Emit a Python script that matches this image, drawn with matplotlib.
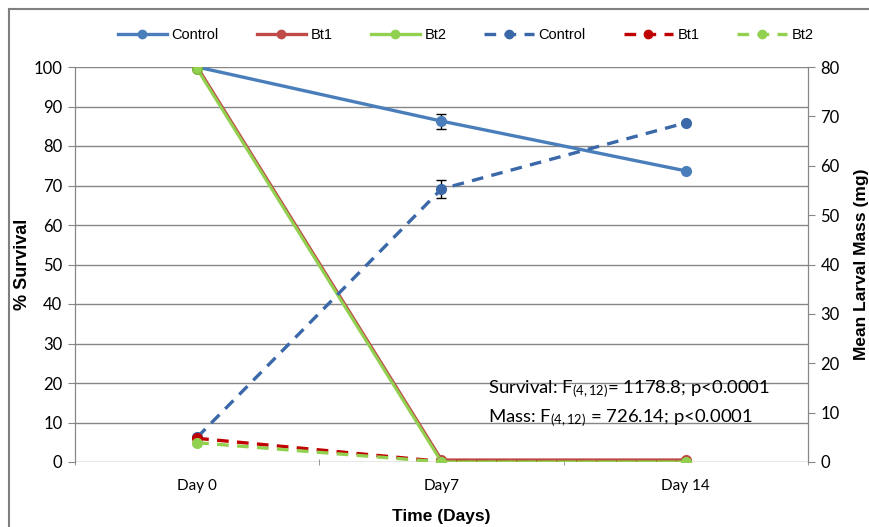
import matplotlib.pyplot as plt
from matplotlib.lines import Line2D

# Sobrevivência (%) e massa larval (mg) ao longo do tempo
dias = ['Day 0', 'Day7', 'Day 14']
sobrev_controle = [100, 86.3, 73.7]
sobrev_controle_erro = [0, 1.9, 0]
sobrev_bt1 = [100, 0.5, 0.5]
sobrev_bt2 = [99.5, 0, 0]
massa_controle = [5.0, 55.3, 68.7]
massa_controle_erro = [0, 1.9, 0]
massa_bt1 = [4.8, 0.1, 0]
massa_bt2 = [3.9, 0, 0]

azul = '#4A7EBB'
vermelho = '#BE4B48'
verde = '#92D050'
azul_esc = '#3A68A8'
vermelho_esc = '#C00000'
cinza = '#868686'
tracejado = (0, (3.5, 2.5))

plt.rcParams['font.family'] = ['Lato', 'DejaVu Sans']
plt.rcParams['mathtext.fontset'] = 'custom'
plt.rcParams['mathtext.rm'] = 'Lato'
plt.rcParams['mathtext.it'] = 'Lato'

fig = plt.figure(figsize=(8.7, 5.27), dpi=100)
ax = fig.add_axes([75 / 870, 1 - 462 / 527, 733 / 870, 395 / 527])
ax2 = ax.twinx()
x = range(len(dias))

# Linhas de sobrevivência (eixo esquerdo)
ax.errorbar(x, sobrev_controle, yerr=sobrev_controle_erro, color=azul, lw=2.4,
            marker='o', ms=7, mec=azul, ecolor='black', elinewidth=1, capsize=3.5,
            zorder=3)
ax.plot(x, sobrev_bt1, color=vermelho, lw=2.4, marker='o', ms=7, mec=vermelho,
        zorder=4)
ax.plot(x, sobrev_bt2, color=verde, lw=2.2, marker='o', ms=7, mec='#7DB83A',
        zorder=5)

# Linhas de massa (eixo direito)
ax2.errorbar(x, massa_controle, yerr=massa_controle_erro, color=azul_esc, lw=2.4,
             ls=tracejado, marker='o', ms=7, ecolor='black', elinewidth=1,
             capsize=3.5, zorder=3)
ax2.plot(x, massa_bt1, color=vermelho_esc, lw=2.4, ls=tracejado, marker='o',
         ms=7, zorder=4)
ax2.plot(x, massa_bt2, color=verde, lw=2.4, ls=tracejado, marker='o',
         ms=7, zorder=5)

ax.set_xlim(-0.5, 2.5)
ax.set_ylim(0, 100)
ax.set_yticks(range(0, 101, 10))
ax2.set_ylim(0, 80)
ax2.set_yticks(range(0, 81, 10))

ax.set_xticks(x)
ax.set_xticklabels(dias)
ax.set_xticks([-0.5, 0.5, 1.5, 2.5], minor=True)
ax.tick_params(axis='x', which='major', length=0, pad=12, labelsize=11)
ax.tick_params(axis='x', which='minor', length=5, color=cinza, direction='inout')
ax.tick_params(axis='y', length=5, color=cinza, labelsize=12, pad=4)
ax2.tick_params(axis='y', length=5, color=cinza, labelsize=12, pad=4)

ax.grid(axis='y', color=cinza, lw=1)
ax.set_axisbelow(True)
for a in (ax, ax2):
    a.spines['top'].set_visible(False)
    a.spines['bottom'].set_visible(False)
    for lado in ('left', 'right'):
        a.spines[lado].set_color(cinza)

ax.set_xlabel('Time (Days)', family='Liberation Sans', fontweight='bold',
              fontsize=12.5, labelpad=12)
ax.set_ylabel('% Survival', family='Liberation Sans', fontweight='bold',
              fontsize=13, labelpad=2)
ax2.set_ylabel('Mean Larval Mass (mg)', family='Liberation Sans',
               fontweight='bold', fontsize=12.5, labelpad=10)

# Estatísticas
ax.text(1.19, 17.3, 'Survival: F$_{(4,12)}$= 1178.8; p<0.0001', fontsize=13.3,
        zorder=6)
ax.text(1.19, 10.0, 'Mass: F$_{(4,12)}$ = 726.14; p<0.0001', fontsize=13.3,
        zorder=6)

# Legenda com linhas e marcadores simples
estilos = [(azul, '-'), (vermelho, '-'), (verde, '-'),
           (azul_esc, tracejado), (vermelho_esc, tracejado), (verde, tracejado)]
rotulos = ['Control', 'Bt1', 'Bt2', 'Control', 'Bt1', 'Bt2']
alcas = [Line2D([], [], color=c, ls=s, lw=2.4, marker='o', ms=6) for c, s in estilos]
fig.legend(alcas, rotulos, loc='center', bbox_to_anchor=(0.535, 1 - 35 / 527),
           ncol=6, frameon=False, handlelength=3.4, columnspacing=2.6,
           handletextpad=0.3, prop={'family': 'Liberation Sans', 'size': 10.5})

# Moldura do gráfico
fig.add_artist(Line2D([9 / 870, 9 / 870], [0, 1 - 9 / 527], color='#7F7F7F', lw=1.5))
fig.add_artist(Line2D([9 / 870, 1], [1 - 9 / 527, 1 - 9 / 527], color='#7F7F7F', lw=1.5))

fig.savefig('out.png', dpi=100)
